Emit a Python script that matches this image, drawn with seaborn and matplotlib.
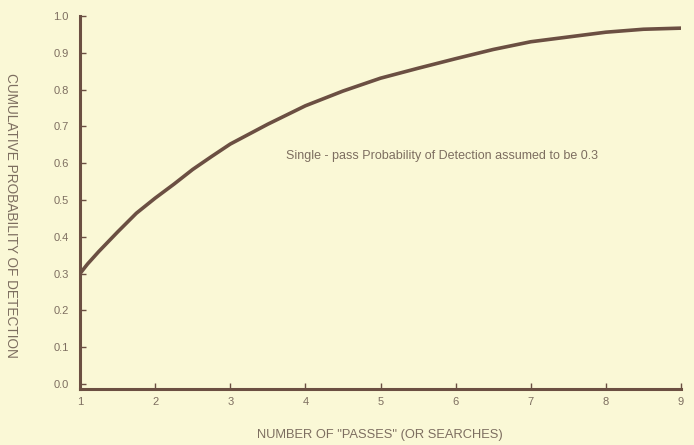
import numpy as np
import pandas as pd
import matplotlib
matplotlib.use('Agg')
import matplotlib.pyplot as plt
import seaborn as sns

# valores
passes = [1.0, 1.1, 1.25, 1.5, 1.75, 2.0, 2.25, 2.5, 2.75, 3.0, 3.5, 4.0, 4.5,
          5.0, 5.5, 6.0, 6.5, 7.0, 7.5, 8.0, 8.5, 9.0]
prob = [0.30, 0.326, 0.36, 0.413, 0.464, 0.505, 0.543, 0.583, 0.618, 0.652, 0.706,
        0.756, 0.796, 0.831, 0.858, 0.884, 0.909, 0.930, 0.943, 0.956, 0.964, 0.967]
x_ticks = [1, 2, 3, 4, 5, 6, 7, 8, 9]
y_ticks = [0.0, 0.1, 0.2, 0.3, 0.4, 0.5, 0.6, 0.7, 0.8, 0.9, 1.0]

df = pd.DataFrame({'passes': passes, 'prob': prob})

bg = '#faf8d6'
brown = '#6b4f42'
txt = '#7d6e60'

sns.set_style('ticks')
plt.rcParams['font.family'] = ['Liberation Sans', 'DejaVu Sans']

fig = plt.figure(figsize=(6.94, 4.45), dpi=100, facecolor=bg)
ax = fig.add_axes([80 / 694, 1 - 389 / 445, 601 / 694, 373 / 445])
ax.set_facecolor(bg)

sns.lineplot(data=df, x='passes', y='prob', color=brown, linewidth=2.6, ax=ax,
             solid_joinstyle='round', solid_capstyle='round')

ax.set_xlim(1, 9)
ax.set_ylim(-0.0136, 1.0)
ax.set_xticks(x_ticks)
ax.set_yticks(y_ticks)
ax.set_yticklabels([f'{v:.1f}' for v in y_ticks])
ax.tick_params(axis='both', direction='in', length=4, width=1, color=brown,
               labelcolor=txt, labelsize=8)
ax.tick_params(axis='y', pad=8)
ax.tick_params(axis='x', pad=6)

for s in ['top', 'right']:
    ax.spines[s].set_visible(False)
for s in ['left', 'bottom']:
    ax.spines[s].set_color(brown)
    ax.spines[s].set_linewidth(2.2)

ax.set_xlabel('')
ax.set_ylabel('')
fig.text(380 / 694, 1 - 435 / 445, 'NUMBER OF "PASSES" (OR SEARCHES)', color=txt,
         fontsize=9.3, ha='center', va='center')
fig.text(11 / 694, 1 - 215 / 445, 'CUMULATIVE PROBABILITY OF DETECTION', color=txt,
         fontsize=9.8, ha='center', va='center', rotation=270)

ax.text(5.82, 0.62, 'Single - pass Probability of Detection assumed to be 0.3',
        color=txt, fontsize=9, ha='center', va='center')

fig.savefig('out.png', dpi=100, facecolor=bg)
